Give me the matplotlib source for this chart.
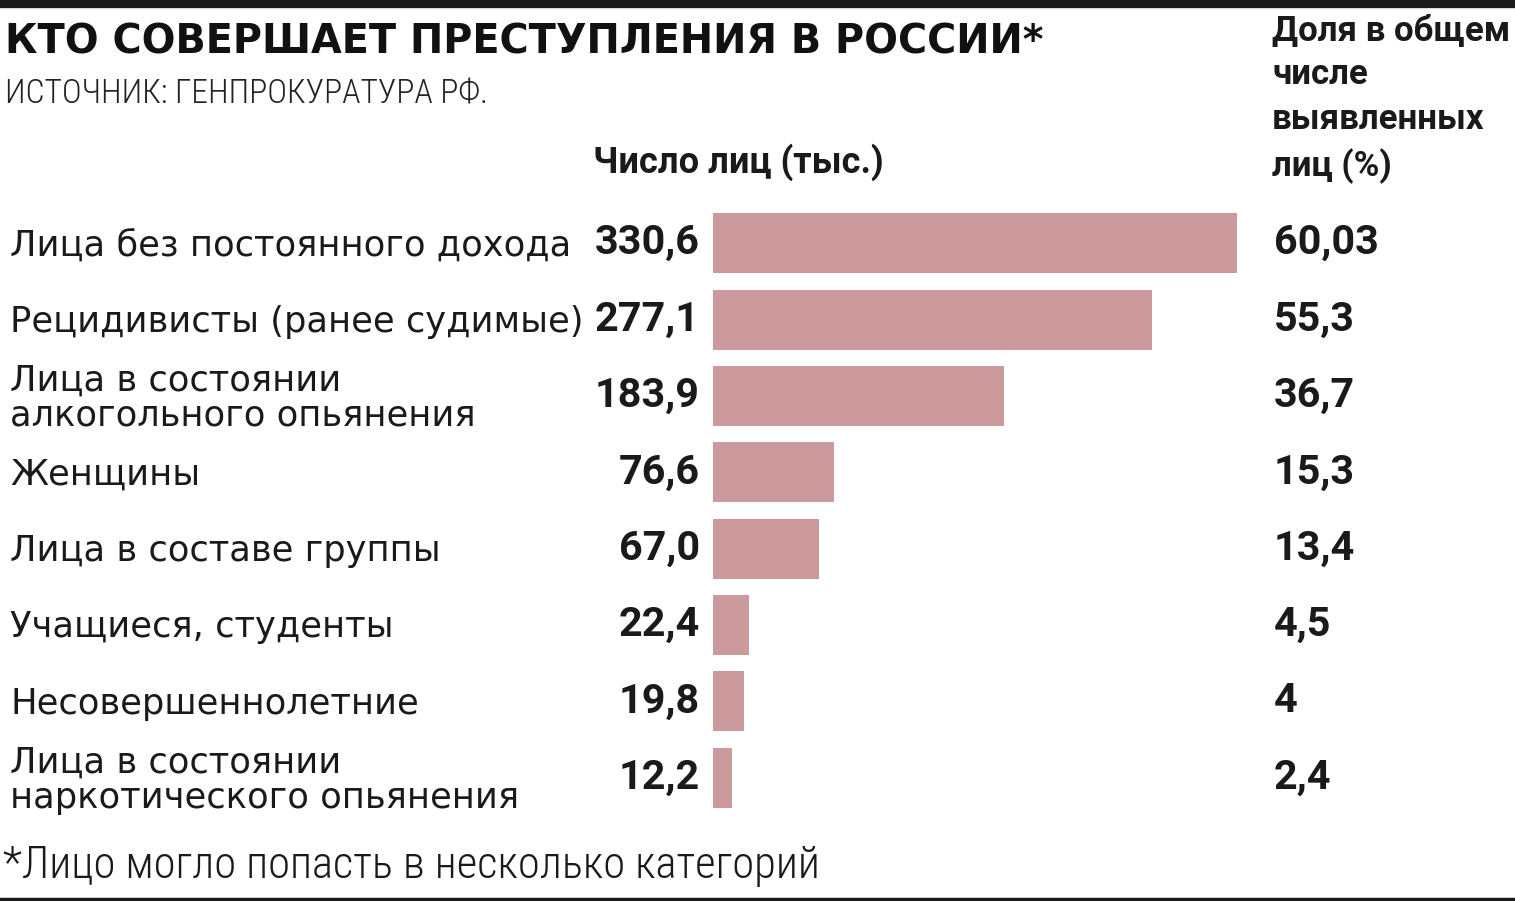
import matplotlib
matplotlib.use("Agg")
import matplotlib.pyplot as plt
import matplotlib.transforms as mtransforms
from matplotlib import font_manager

# data
categories = [
    "Лица без постоянного дохода",
    "Рецидивисты (ранее судимые)",
    "Лица в состоянии\nалкогольного опьянения",
    "Женщины",
    "Лица в составе группы",
    "Учащиеся, студенты",
    "Несовершеннолетние",
    "Лица в состоянии\nнаркотического опьянения",
]
persons_k = [330.6, 277.1, 183.9, 76.6, 67.0, 22.4, 19.8, 12.2]
share_labels = ["60,03", "55,3", "36,7", "15,3", "13,4", "4,5", "4", "2,4"]

W, H = 1515, 901
BAR_COLOR = "#cc999c"
TXT = "#1a1a1a"

# pick faces that are installed
_names = {f.name for f in font_manager.fontManager.ttflist}


def pick(cands):
    return [next((n for n in cands if n in _names), "DejaVu Sans"), "DejaVu Sans"]


NARROW = pick(["Roboto Condensed", "Liberation Sans Narrow", "Roboto"])
SANS = pick(["Roboto", "Liberation Sans"])

fig = plt.figure(figsize=(W / 100, H / 100), dpi=100)
fig.patch.set_facecolor("white")
renderer = fig.canvas.get_renderer()


def px(x, y):
    """pixel coords (from top-left) -> figure fraction"""
    return x / W, 1 - y / H


def fit(t, target_w):
    """scale a text's font so its width is target_w pixels"""
    w = t.get_window_extent(renderer).width
    t.set_fontsize(t.get_fontsize() * target_w / w)
    return t.get_fontsize()


def fit_size(s, target_w, **kw):
    probe = fig.text(0, 0, s, fontsize=20, **kw)
    fs = fit(probe, target_w)
    probe.remove()
    return fs


# bar axes: x 713..1237 px covers 0..max value, rows 205..816 px
left, right = 713, 1237
top, bottom = 205, 816
ax = fig.add_axes([left / W, 1 - bottom / H, (right - left) / W, (bottom - top) / H])
n = len(categories)
ax.barh(range(n), persons_k, height=0.785, color=BAR_COLOR, left=0)
ax.set_xlim(0, max(persons_k))
ax.set_ylim(n - 0.5, -0.5)
ax.axis("off")

# sizes from reference widths
cat_fs = fit_size(categories[0], 558, family="DejaVu Sans")
val_fs = fit_size("330,6", 105, fontweight="bold", family=SANS)

tr = mtransforms.blended_transform_factory(fig.transFigure, ax.transData)
for i, (cat, val, sh) in enumerate(zip(categories, persons_k, share_labels)):
    ax.text(10 / W, i + 0.03, cat, transform=tr, ha="left", va="center",
            fontsize=cat_fs, color=TXT, family="DejaVu Sans", linespacing=1.05,
            clip_on=False)
    ax.text(700 / W, i, f"{val:.1f}".replace(".", ","), transform=tr,
            ha="right", va="center", fontsize=val_fs, fontweight="bold",
            color=TXT, family=SANS, clip_on=False)
    ax.text(1274 / W, i, sh, transform=tr, ha="left", va="center",
            fontsize=val_fs, fontweight="bold", color=TXT, family=SANS,
            clip_on=False)

# header texts
t = fig.text(*px(5, 43), "КТО СОВЕРШАЕТ ПРЕСТУПЛЕНИЯ В РОССИИ*", ha="left",
             va="center", fontsize=29, fontweight="heavy", color="#111111",
             family="DejaVu Sans")
fit(t, 1040)
t = fig.text(*px(5, 94), "ИСТОЧНИК: ГЕНПРОКУРАТУРА РФ.", ha="left",
             va="center", fontsize=19, fontweight="light", color="#222222",
             family=NARROW)
fit(t, 483)
t = fig.text(*px(593, 162), "Число лиц (тыс.)", ha="left", va="center",
             fontsize=23, fontweight="bold", color=TXT, family=SANS)
fit(t, 292)

hdr_fs = fit_size("выявленных", 212, fontweight="bold", family=SANS)
fig.text(*px(1272, 99), "Доля в общем\nчисле\nвыявленных\nлиц (%)", ha="left",
         va="center", fontsize=hdr_fs, fontweight="bold", color=TXT,
         family=SANS, linespacing=1.45)

t = fig.text(*px(3, 866), "*Лицо могло попасть в несколько категорий",
             ha="left", va="center", fontsize=25, fontweight="light",
             color=TXT, family=NARROW)
fit(t, 819)

# rules
fig.add_artist(plt.Line2D([0, 1], [1 - 4 / H, 1 - 4 / H], color="#1a1a1a",
                          linewidth=6, transform=fig.transFigure))
fig.add_artist(plt.Line2D([0, 1], [1 - 899 / H, 1 - 899 / H], color="#1a1a1a",
                          linewidth=2.5, transform=fig.transFigure))

fig.savefig("out.png", dpi=100, facecolor="white")
